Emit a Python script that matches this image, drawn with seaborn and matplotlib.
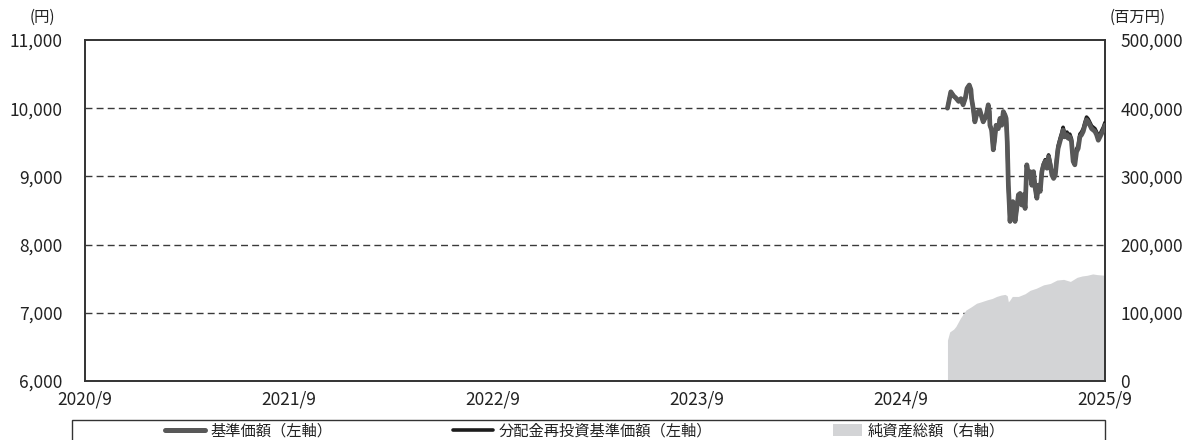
import matplotlib
matplotlib.use("Agg")
import matplotlib.pyplot as plt
from matplotlib.patches import Rectangle, Patch
from matplotlib.lines import Line2D
import matplotlib.ticker as mticker
import pandas as pd
import seaborn as sns

# --- data -----------------------------------------------------------------
nav_dates = [
    "2024-12-22", "2024-12-28", "2025-01-02", "2025-01-06", "2025-01-11",
    "2025-01-15", "2025-01-19", "2025-01-23", "2025-01-26", "2025-01-30",
    "2025-02-02", "2025-02-03", "2025-02-06", "2025-02-09", "2025-02-12",
    "2025-02-15", "2025-02-18", "2025-02-21", "2025-02-24", "2025-02-27",
    "2025-03-02", "2025-03-05", "2025-03-07", "2025-03-08", "2025-03-11",
    "2025-03-14", "2025-03-16", "2025-03-19", "2025-03-23", "2025-03-26",
    "2025-03-29", "2025-04-01", "2025-04-04", "2025-04-06", "2025-04-08",
    "2025-04-10", "2025-04-12", "2025-04-13", "2025-04-15", "2025-04-18",
    "2025-04-20", "2025-04-22", "2025-04-25", "2025-04-28", "2025-05-01",
    "2025-05-04", "2025-05-07", "2025-05-10", "2025-05-13", "2025-05-16",
    "2025-05-19", "2025-05-22", "2025-05-25", "2025-05-28", "2025-05-31",
    "2025-06-03", "2025-06-06", "2025-06-09", "2025-06-12", "2025-06-15",
    "2025-06-18", "2025-06-21", "2025-06-24", "2025-06-27", "2025-06-30",
    "2025-07-03", "2025-07-06", "2025-07-08", "2025-07-12", "2025-07-15",
    "2025-07-17", "2025-07-20", "2025-07-24", "2025-07-26", "2025-07-29",
    "2025-08-01", "2025-08-04", "2025-08-07", "2025-08-10", "2025-08-13",
    "2025-08-16", "2025-08-19", "2025-08-22", "2025-08-25", "2025-08-28",
    "2025-08-31", "2025-09-03", "2025-09-06", "2025-09-09", "2025-09-12",
    "2025-09-15", "2025-09-18", "2025-09-21", "2025-09-24", "2025-09-27",
    "2025-09-30",
]
nav = [
    10000, 10240, 10180, 10150, 10100,
    10140, 10050, 10150, 10290, 10340,
    10270, 10150, 10000, 9800, 9900,
    9950, 9970, 9880, 9800, 9850,
    9920, 10050, 9950, 9750, 9680,
    9390, 9510, 9750, 9700, 9850,
    9750, 9950, 9900, 9850, 9510,
    8870, 8530, 8340, 8580, 8630,
    8480, 8340, 8530, 8730, 8750,
    8580, 8730, 8530, 9170, 9020,
    9070, 8870, 9070, 8830, 8680,
    8870, 8780, 9070, 9170, 9220,
    9120, 9290, 9170, 9020, 8970,
    9020, 9270, 9410, 9530, 9610,
    9680, 9580, 9610, 9560, 9580,
    9510, 9220, 9170, 9360, 9410,
    9580, 9610, 9660, 9750, 9830,
    9800, 9750, 9700, 9680, 9660,
    9610, 9530, 9580, 9630, 9680,
    9750,
]
nav_reinvested = [
    10000, 10240, 10180, 10150, 10100,
    10140, 10050, 10150, 10290, 10340,
    10270, 10150, 10000, 9800, 9900,
    9950, 9970, 9880, 9800, 9850,
    9920, 10050, 9950, 9750, 9680,
    9390, 9510, 9750, 9700, 9850,
    9750, 9950, 9900, 9850, 9510,
    8870, 8530, 8340, 8580, 8630,
    8480, 8340, 8530, 8730, 8750,
    8580, 8730, 8530, 9170, 9020,
    9070, 8870, 9070, 8830, 8680,
    8880, 8790, 9080, 9185, 9245,
    9145, 9315, 9195, 9045, 8995,
    9045, 9295, 9445, 9570, 9650,
    9720, 9620, 9650, 9600, 9620,
    9550, 9260, 9210, 9400, 9450,
    9620, 9650, 9700, 9790, 9870,
    9840, 9790, 9740, 9720, 9700,
    9650, 9570, 9620, 9670, 9720,
    9790,
]

asset_dates = [
    "2024-12-22", "2024-12-26", "2025-01-02", "2025-01-06", "2025-01-14",
    "2025-01-24", "2025-02-03", "2025-02-12", "2025-02-20", "2025-03-03",
    "2025-03-12", "2025-03-20", "2025-03-28", "2025-04-04", "2025-04-08",
    "2025-04-10", "2025-04-13", "2025-04-17", "2025-04-28", "2025-05-01",
    "2025-05-10", "2025-05-19", "2025-05-30", "2025-06-12", "2025-06-24",
    "2025-07-06", "2025-07-18", "2025-07-30", "2025-08-11", "2025-08-20",
    "2025-08-29", "2025-09-08", "2025-09-16", "2025-09-30",
]
net_assets = [
    60000, 72000, 76000, 80000, 92000,
    104000, 109000, 114000, 116000, 119000,
    121000, 124000, 126000, 127000, 125000,
    116000, 119000, 124000, 124000, 125000,
    128000, 133000, 136000, 141000, 143000,
    148000, 149000, 146000, 152000, 154000,
    155000, 157000, 156000, 155000,
]

tick_years = ["2020-09-30", "2021-09-30", "2022-09-30", "2023-09-30",
              "2024-09-30", "2025-09-30"]
tick_labels = ["2020/9", "2021/9", "2022/9", "2023/9", "2024/9", "2025/9"]

legend_labels = ["基準価額（左軸）", "分配金再投資基準価額（左軸）", "純資産総額（右軸）"]

# --- styling --------------------------------------------------------------
sns.set_theme(style="white")
plt.rcParams["font.family"] = ["Noto Sans CJK JP", "DejaVu Sans"]

GRAY_LINE = "#585858"
BLACK_LINE = "#1c1c1c"
AREA = "#d3d4d6"
SPINE = "#333333"
TEXT = "#222222"

df_nav = pd.DataFrame({
    "date": pd.to_datetime(nav_dates),
    "nav": nav,
    "reinvested": nav_reinvested,
})
df_assets = pd.DataFrame({
    "date": pd.to_datetime(asset_dates),
    "assets": net_assets,
})

W, H = 1194, 440
fig = plt.figure(figsize=(W / 100, H / 100), dpi=100)
ax = fig.add_axes([85 / W, 1 - 381 / H, (1105 - 85) / W, (381 - 40) / H])
ax2 = ax.twinx()

# right axis (net assets) sits underneath the price lines
ax.set_zorder(2)
ax2.set_zorder(1)
ax.patch.set_visible(False)
ax2.patch.set_visible(True)
ax2.patch.set_facecolor("white")

ax2.fill_between(df_assets["date"], 0, df_assets["assets"],
                 color=AREA, linewidth=0, zorder=2)
ax2.set_ylim(0, 500000)
ax2.set_yticks([0, 100000, 200000, 300000, 400000, 500000])
ax2.yaxis.set_major_formatter(mticker.FuncFormatter(lambda v, p: f"{int(v):,}"))
for yv in [100000, 200000, 300000, 400000]:
    ax2.axhline(yv, color="#3a3a3a", linewidth=1.0, dashes=(5, 3), zorder=1)

sns.lineplot(data=df_nav, x="date", y="reinvested", ax=ax,
             color=BLACK_LINE, linewidth=2.6, zorder=3)
sns.lineplot(data=df_nav, x="date", y="nav", ax=ax,
             color=GRAY_LINE, linewidth=3.4, zorder=4)

ax.set_xlim(pd.Timestamp("2020-09-30"), pd.Timestamp("2025-09-30"))
ax.set_ylim(6000, 11000)
ax.set_yticks([6000, 7000, 8000, 9000, 10000, 11000])
ax.yaxis.set_major_formatter(mticker.FuncFormatter(lambda v, p: f"{int(v):,}"))
ax.set_xticks(pd.to_datetime(tick_years))
ax.set_xticklabels(tick_labels)
ax.set_xlabel("")
ax.set_ylabel("")
ax2.set_ylabel("")

for a in (ax, ax2):
    for s in a.spines.values():
        s.set_visible(True)
        s.set_color(SPINE)
        s.set_linewidth(1.2)

ax.tick_params(axis="x", direction="in", length=5, width=0.8, color="#555555",
               labelsize=12.5, pad=7, labelcolor=TEXT)
ax.tick_params(axis="y", length=0, labelsize=12.5, pad=16, labelcolor=TEXT)
ax2.tick_params(axis="y", length=0, labelsize=12.5, pad=11, labelcolor=TEXT)

# axis unit captions
fig.text(42 / W, 1 - 17 / H, "(円)", ha="center", va="center",
         fontsize=11, color=TEXT)
fig.text(1138 / W, 1 - 17 / H, "(百万円)", ha="center", va="center",
         fontsize=11, color=TEXT)

# legend frame below the plot, running off the bottom edge
fig.patches.append(Rectangle((72 / W, -0.05), (1105 - 72) / W, 0.05 + (1 - 420 / H),
                             transform=fig.transFigure, fill=False,
                             edgecolor=SPINE, linewidth=1.0))

legend_items = [
    (Line2D([0], [0], color=GRAY_LINE, linewidth=3.6), 165, 2.6, 0.8),
    (Line2D([0], [0], color=BLACK_LINE, linewidth=2.6), 453, 2.6, 0.8),
    (Patch(facecolor=AREA, edgecolor="none"), 833, 1.9, 0.8),
]
for (handle, x0, hlen, hh), label in zip(legend_items, legend_labels):
    fig.legend([handle], [label], frameon=False, loc="center left",
               bbox_to_anchor=(x0 / W, 1 - 431 / H), fontsize=11,
               handlelength=hlen, handleheight=hh, handletextpad=0.4,
               borderpad=0, borderaxespad=0, labelcolor=TEXT)

fig.savefig("out.png", dpi=100)
